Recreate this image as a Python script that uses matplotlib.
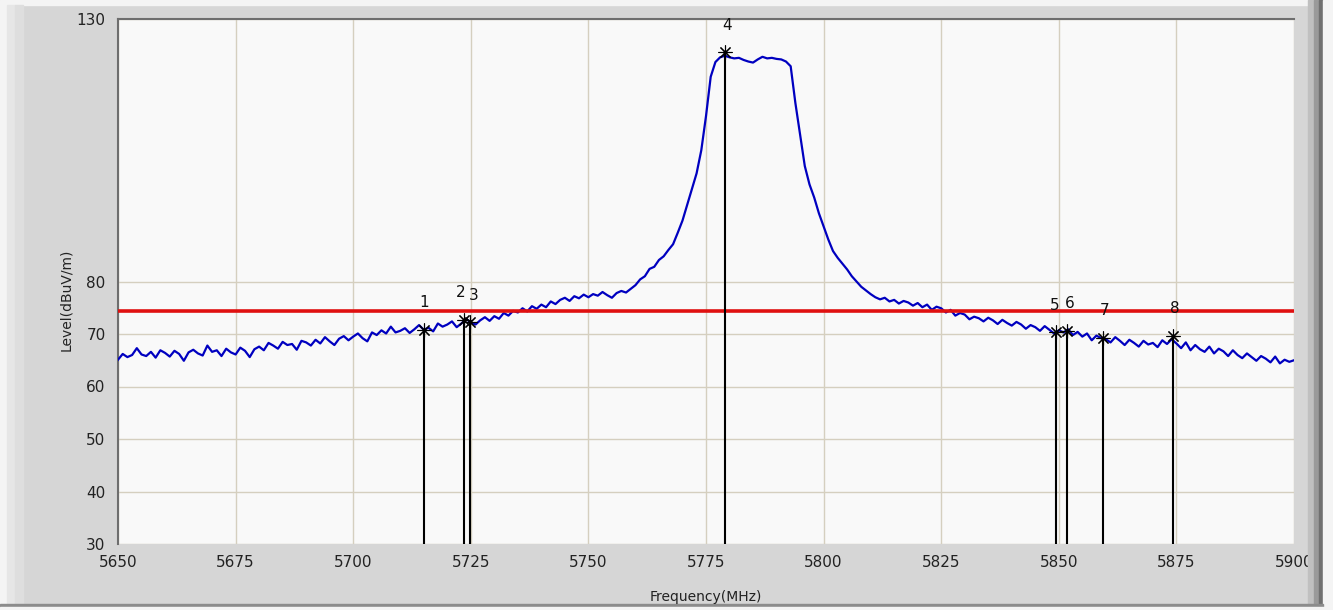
import matplotlib
matplotlib.use("Agg")
import matplotlib.pyplot as plt
import numpy as np
from matplotlib.patches import Rectangle

# ---- data ----
freq_start = 5650
freq_step = 1
level = [
    65.1, 66.2, 65.6, 66.0, 67.3, 66.1, 65.8, 66.6, 65.5, 66.9,
    66.4, 65.7, 66.8, 66.2, 64.9, 66.5, 67.0, 66.3, 65.9, 67.8,
    66.6, 66.9, 65.8, 67.2, 66.5, 66.1, 67.4, 66.8, 65.6, 67.1,
    67.6, 66.9, 68.3, 67.8, 67.2, 68.5, 67.9, 68.1, 67.0, 68.7,
    68.4, 67.8, 68.9, 68.2, 69.4, 68.6, 67.9, 69.1, 69.6, 68.8,
    69.5, 70.1, 69.2, 68.6, 70.3, 69.8, 70.7, 70.1, 71.4, 70.3,
    70.6, 71.1, 70.2, 70.9, 71.7, 70.8, 71.2, 70.5, 72.0, 71.4,
    71.8, 72.4, 71.3, 72.0, 72.9, 72.2, 71.8, 72.6, 73.2, 72.5,
    73.4, 72.9, 74.0, 73.5, 74.4, 74.1, 74.9, 74.3, 75.3, 74.8,
    75.6, 75.1, 76.2, 75.7, 76.5, 76.9, 76.3, 77.2, 76.8, 77.5,
    77.0, 77.6, 77.3, 78.0, 77.4, 76.9, 77.8, 78.2, 77.9, 78.6,
    79.3, 80.4, 81.0, 82.4, 82.8, 84.1, 84.8, 86.0, 87.1, 89.3,
    91.6, 94.6, 97.6, 100.6, 105.0, 111.5, 119.0, 121.8, 122.7, 123.0,
    122.7, 122.5, 122.6, 122.2, 121.9, 121.7, 122.3, 122.8, 122.5, 122.6,
    122.4, 122.3, 121.9, 121.0, 114.0, 108.0, 102.0, 98.5, 96.0, 93.0,
    90.5, 88.0, 85.8, 84.5, 83.4, 82.3, 81.0, 80.0, 79.0, 78.3,
    77.6, 77.0, 76.6, 76.9, 76.2, 76.5, 75.8, 76.3, 76.0, 75.4,
    75.9, 75.1, 75.6, 74.6, 75.2, 74.9, 74.1, 74.6, 73.5, 74.0,
    73.7, 72.8, 73.3, 73.0, 72.4, 73.1, 72.6, 71.9, 72.7, 72.1,
    71.6, 72.3, 71.8, 71.0, 71.7, 71.3, 70.6, 71.5, 70.8, 70.1,
    70.7, 70.3, 70.9, 69.8, 70.4, 69.5, 70.1, 68.8, 69.7, 69.2,
    69.0, 68.4, 69.4, 68.7, 67.9, 68.9, 68.3, 67.6, 68.7, 68.0,
    68.3, 67.5, 68.8, 68.1, 69.0, 68.2, 67.3, 68.4, 66.9, 67.9,
    67.1, 66.6, 67.6, 66.3, 67.2, 66.7, 65.8, 66.9, 66.0, 65.4,
    66.3, 65.6, 64.9, 65.8, 65.3, 64.6, 65.7, 64.4, 65.1, 64.7,
    65.0,
]
limit_level = 74.3
marker_labels = ["1", "2", "3", "4", "5", "6", "7", "8"]
marker_freq = [5715.0, 5723.5, 5724.8, 5779.1, 5849.4, 5851.8, 5859.4, 5874.3]
marker_level = [70.8, 72.7, 72.2, 123.7, 70.3, 70.6, 69.3, 69.7]
x_ticks = [5650, 5675, 5700, 5725, 5750, 5775, 5800, 5825, 5850, 5875, 5900]
y_ticks = [30, 40, 50, 60, 70, 80, 130]
x_label = "Frequency(MHz)"
y_label = "Level(dBuV/m)"

freq = freq_start + freq_step * np.arange(len(level))

W, H = 1333, 610
fig = plt.figure(figsize=(W / 100, H / 100), dpi=100)
fig.patch.set_facecolor("#d6d6d6")

# window frame decorations
def frect(x0, y0, w, h, color):
    fig.patches.append(Rectangle((x0 / W, 1 - (y0 + h) / H), w / W, h / H,
                                 transform=fig.transFigure, color=color, zorder=0))

frect(0, 0, W, 5, "#f4f4f4")
frect(0, 0, 7, H, "#f4f4f4")
frect(7, 5, 8, H - 5, "#e6e6e6")
frect(15, 5, 8, H - 5, "#dedede")
frect(1308, 0, 6, H, "#c0c0c0")
frect(1314, 0, 5, H, "#9a9a9a")
frect(1319, 0, 4, H, "#707070")
frect(1323, 0, 10, H, "#f4f4f4")
frect(0, 604, 1323, 3, "#8c8c8c")
frect(0, 607, W, 3, "#f4f4f4")

ax = fig.add_axes([118 / W, 1 - 544 / H, (1294 - 118) / W, (544 - 19) / H])
ax.set_facecolor("#f9f9f9")
ax.set_xlim(5650, 5900)
ax.set_ylim(30, 130)

ax.set_xticks(x_ticks)
ax.set_yticks(y_ticks)
ax.grid(True, color="#d5cfbf", lw=1.0, zorder=1)
ax.tick_params(length=0, labelsize=11, colors="#222222", pad=8)
ax.tick_params(axis="y", pad=9)

for side in ["right", "bottom"]:
    ax.spines[side].set_visible(False)
for side in ["left", "top"]:
    ax.spines[side].set_color("#6e6e6e")
    ax.spines[side].set_linewidth(1.5)

ax.plot(freq, level, color="#0000c0", lw=1.6, zorder=3)
ax.axhline(limit_level, color="#e01010", lw=2.6, zorder=4)

label_dx = [0, -2, 3, 1, -1, 2, 1, 1]
for lab, f, lv, dx in zip(marker_labels, marker_freq, marker_level, label_dx):
    ax.plot([f, f], [30, lv], color="black", lw=1.5, zorder=5)
    ax.plot([f], [lv], marker=(8, 2, 0), ms=10, mec="black", mew=0.8, zorder=6)
    ax.annotate(lab, (f, lv), xytext=(dx, 14), textcoords="offset points",
                ha="center", va="bottom", fontsize=11, color="#111111", zorder=6)

fig.text(706 / W, 1 - 597 / H, x_label, ha="center", va="center", fontsize=10, color="#222222")
fig.text(66 / W, 1 - 300 / H, y_label, ha="center", va="center", rotation=90,
         fontsize=10, color="#222222")

fig.savefig("out.png", dpi=100, facecolor=fig.get_facecolor())
